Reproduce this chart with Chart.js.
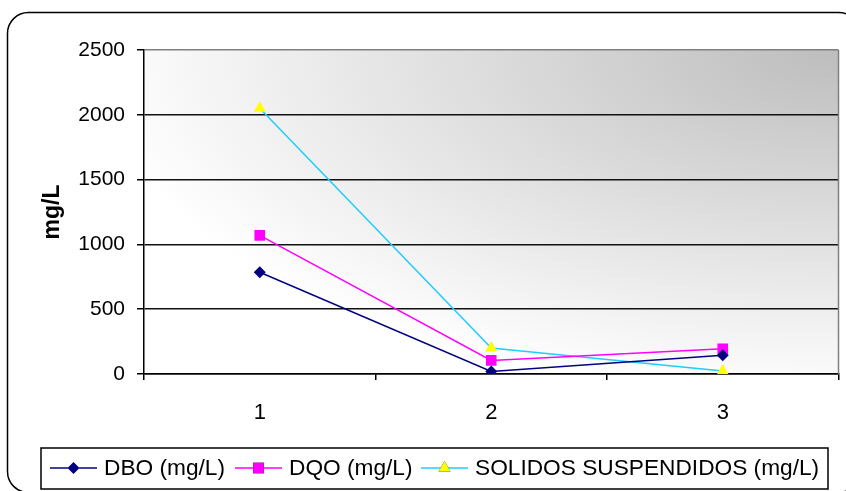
<!DOCTYPE html>
<html>
<head>
<meta charset="utf-8">
<script src="https://cdn.jsdelivr.net/npm/chart.js@4.4.1/dist/chart.umd.min.js"></script>
<style>
    html, body { margin: 0; padding: 0; background: #fff; }
    #wrap { width: 846px; height: 491px; }
</style>
</head>
<body>
<div id="wrap"><canvas id="chart" width="846" height="491"></canvas></div>
<script>
// 데이터
const categories = ['1', '2', '3'];
const dboValues = [785, 20, 145];
const dqoValues = [1070, 105, 195];
const solidosValues = [2050, 200, 23];
const yTicks = [0, 500, 1000, 1500, 2000, 2500];
const seriesNames = ['DBO (mg/L)', 'DQO (mg/L)', 'SOLIDOS SUSPENDIDOS (mg/L)'];
const yTitle = 'mg/L';

const FONT = "'Liberation Sans', Arial, sans-serif";
// 범례 항목 시작 위치
const legendStarts = [50, 235, 421];

// 배경, 테두리, 그라데이션
const backgroundPlugin = {
    id: 'background',
    beforeDraw(chart) {
        const ctx = chart.ctx;
        ctx.save();
        ctx.fillStyle = '#fff';
        ctx.fillRect(0, 0, chart.width, chart.height);

        // 바깥 둥근 테두리
        ctx.beginPath();
        ctx.roundRect(7.5, 12.5, 852, 480, 21);
        ctx.strokeStyle = '#000';
        ctx.lineWidth = 1.5;
        ctx.stroke();

        // 플롯 영역 그라데이션 (오른쪽 위 모서리에서)
        const { left, top, right, bottom } = chart.chartArea;
        const w = right - left, h = bottom - top;
        ctx.beginPath();
        ctx.rect(left, top, w, h);
        ctx.clip();
        ctx.translate(right, top);
        ctx.scale(1, h / w);
        const g = ctx.createRadialGradient(0, 0, 0, 0, 0, w * 1.08);
        g.addColorStop(0, '#bdbdbd');
        g.addColorStop(1, '#ffffff');
        ctx.fillStyle = g;
        ctx.fillRect(-w, 0, w, w);
        ctx.restore();
    },
    afterDraw(chart) {
        const ctx = chart.ctx;
        const { top, right, bottom } = chart.chartArea;
        ctx.save();
        // 오른쪽 테두리
        ctx.strokeStyle = '#808080';
        ctx.lineWidth = 1.5;
        ctx.beginPath();
        ctx.moveTo(right, top);
        ctx.lineTo(right, bottom);
        ctx.stroke();

        // 범례
        ctx.fillStyle = '#fff';
        ctx.fillRect(41, 448, 787, 41);
        ctx.strokeStyle = '#000';
        ctx.lineWidth = 1.5;
        ctx.strokeRect(41, 448, 787, 41);

        ctx.font = '22.7px ' + FONT;
        ctx.textBaseline = 'middle';
        const cy = 468;
        chart.data.datasets.forEach((ds, i) => {
            const x = legendStarts[i];
            ctx.strokeStyle = ds.borderColor;
            ctx.lineWidth = ds.borderWidth;
            ctx.beginPath();
            ctx.moveTo(x, cy);
            ctx.lineTo(x + 47, cy);
            ctx.stroke();
            Chart.helpers.drawPoint(ctx, {
                pointStyle: ds.pointStyle,
                radius: ds.pointRadius,
                rotation: 0,
                borderWidth: 0
            }, x + 23.5, cy);
            ctx.fillStyle = ds.pointBackgroundColor;
            ctx.fill();
            ctx.fillStyle = '#000';
            ctx.fillText(ds.label, x + 54, cy + 1);
        });
        ctx.restore();
    }
};

const ctx = document.getElementById('chart').getContext('2d');
new Chart(ctx, {
    type: 'line',
    data: {
        labels: categories,
        datasets: [
            {
                label: seriesNames[0],
                data: dboValues,
                borderColor: '#000080',
                backgroundColor: '#000080',
                pointBackgroundColor: '#000080',
                pointBorderWidth: 0,
                pointStyle: 'rectRot',
                pointRadius: 6,
                borderWidth: 1.5,
                tension: 0
            },
            {
                label: seriesNames[1],
                data: dqoValues,
                borderColor: '#ff00ff',
                backgroundColor: '#ff00ff',
                pointBackgroundColor: '#ff00ff',
                pointBorderWidth: 0,
                pointStyle: 'rect',
                pointRadius: 7.5,
                borderWidth: 1.5,
                tension: 0
            },
            {
                label: seriesNames[2],
                data: solidosValues,
                borderColor: '#22ccff',
                backgroundColor: '#ffff00',
                pointBackgroundColor: '#ffff00',
                pointBorderWidth: 0,
                pointStyle: 'triangle',
                pointRadius: 7,
                borderWidth: 1.5,
                tension: 0
            }
        ]
    },
    options: {
        responsive: false,
        devicePixelRatio: 1,
        animation: false,
        layout: { padding: { left: 0, top: 50, right: 4, bottom: 0 } },
        plugins: {
            legend: { display: false },
            tooltip: { enabled: false }
        },
        scales: {
            x: {
                type: 'category',
                offset: true,
                grid: {
                    offset: true,
                    drawOnChartArea: false,
                    drawTicks: true,
                    tickLength: 6,
                    color: '#000',
                    lineWidth: 1.5
                },
                border: { color: '#000', width: 1.5 },
                ticks: {
                    color: '#000',
                    padding: 20,
                    font: { family: FONT, size: 22 }
                },
                afterFit: s => { s.height = 117; }
            },
            y: {
                min: 0,
                max: 2500,
                afterBuildTicks: s => { s.ticks = yTicks.map(v => ({ value: v })); },
                grid: {
                    color: c => (c.tick && c.tick.value === 2500 ? '#808080' : '#111'),
                    tickColor: '#000',
                    lineWidth: 1.5,
                    tickLength: 7
                },
                border: { color: '#000', width: 1.5 },
                ticks: {
                    color: '#000',
                    padding: 12,
                    font: { family: FONT, size: 21 },
                    callback: v => String(v)
                },
                title: {
                    display: true,
                    text: yTitle,
                    color: '#000',
                    font: { family: FONT, size: 23, weight: 'bold' },
                    padding: { top: 39, bottom: 0 }
                },
                afterFit: s => { s.width = 144; }
            }
        }
    },
    plugins: [backgroundPlugin]
});
</script>
</body>
</html>
